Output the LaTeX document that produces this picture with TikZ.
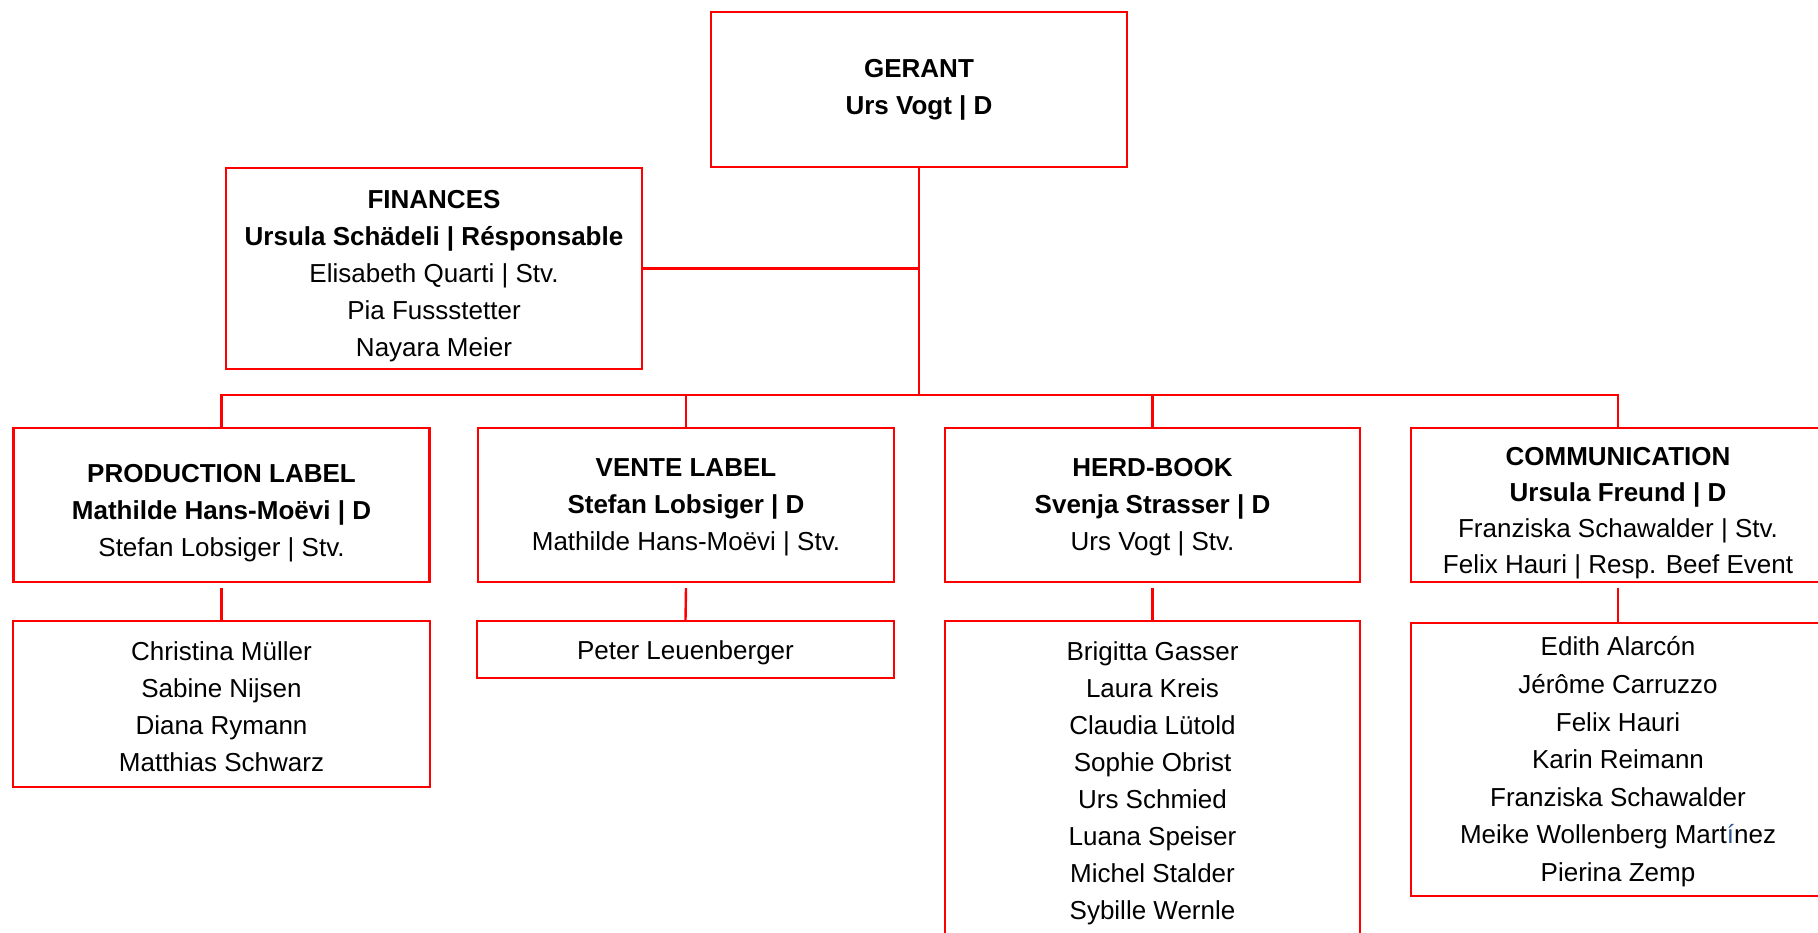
\documentclass[tikz,border=0pt]{standalone}
\usepackage{fontspec}
\setmainfont{Liberation Sans}
\usepackage{xcolor}
\definecolor{ired}{HTML}{FF0000}
\definecolor{iblue}{HTML}{2E5597}
\begin{document}
\begin{tikzpicture}[x=0.5pt,y=-0.5pt,
  orgbox/.style={draw=ired, line width=1.2pt, rectangle, inner sep=0pt},
  boxtext/.style={inner sep=0pt, align=center, font=\fontsize{13}{18.5}\selectfont},
  link/.style={draw=ired, line width=1.2pt}]
\clip (0,0) rectangle (1818,932);
\fill[white] (0,0) rectangle (1818,932);

% boxes
\node[orgbox, minimum width=208pt, minimum height=77.5pt] (ger) at (919,89.5) {};
\node[orgbox, minimum width=208pt, minimum height=100.5pt] (fin) at (434,268.5) {};
\node[orgbox, minimum width=208pt, minimum height=77pt] (prod) at (221.5,505) {};
\node[orgbox, minimum width=208pt, minimum height=77pt] (vente) at (686,505) {};
\node[orgbox, minimum width=207.5pt, minimum height=77pt] (herd) at (1152.5,505) {};
\node[orgbox, minimum width=207pt, minimum height=77pt] (comm) at (1618,505) {};
\node[orgbox, minimum width=208.5pt, minimum height=83pt] (prodl) at (221.5,704) {};
\node[orgbox, minimum width=208.5pt, minimum height=28.5pt] (ventel) at (685.5,649.5) {};
\node[orgbox, minimum width=207.5pt, minimum height=159.5pt] (herdl) at (1152.5,780.5) {};
\node[orgbox, minimum width=207pt, minimum height=136.5pt] (comml) at (1618,759.5) {};

% texts
\node[boxtext] (gert) at (ger.center)
  {\textbf{GERANT}\\\textbf{Urs Vogt | D}};
\node[boxtext, yshift=-4pt] (fint) at (fin.center)
  {\textbf{FINANCES}\\\textbf{Ursula Schädeli | Résponsable}\\Elisabeth Quarti | Stv.\\Pia Fussstetter\\Nayara Meier};
\node[boxtext, yshift=-4pt] (prodt) at (prod.center)
  {\textbf{PRODUCTION LABEL}\\\textbf{Mathilde Hans-Moëvi | D}\\Stefan Lobsiger | Stv.};
\node[boxtext, yshift=-1.2pt] (ventet) at (vente.center)
  {\textbf{VENTE LABEL}\\\textbf{Stefan Lobsiger | D}\\Mathilde Hans-Moëvi | Stv.};
\node[boxtext, yshift=-1.2pt] (herdt) at (herd.center)
  {\textbf{HERD-BOOK}\\\textbf{Svenja Strasser | D}\\Urs Vogt | Stv.};
\node[boxtext, yshift=-4pt, font=\fontsize{13}{18}\selectfont] (commt) at (comm.center)
  {\textbf{COMMUNICATION}\\\textbf{Ursula Freund | D}\\Franziska Schawalder | Stv.\\Felix Hauri | Resp. Beef Event};
\node[boxtext, yshift=-1.2pt] (prodlt) at (prodl.center)
  {Christina Müller\\Sabine Nijsen\\Diana Rymann\\Matthias Schwarz};
\node[boxtext, yshift=-1.7pt] (ventelt) at (ventel.center)
  {Peter Leuenberger};
\node[boxtext, yshift=-1.2pt] (herdlt) at (herdl.center)
  {Brigitta Gasser\\Laura Kreis\\Claudia Lütold\\Sophie Obrist\\Urs Schmied\\Luana Speiser\\Michel Stalder\\Sybille Wernle};
\node[boxtext, yshift=-1.2pt, font=\fontsize{13}{18.8}\selectfont] (commlt) at (comml.center)
  {Edith Alarcón\\Jérôme Carruzzo\\Felix Hauri\\Karin Reimann\\Franziska Schawalder\\Meike Wollenberg Mart{\color{iblue}í}nez\\Pierina Zemp};

% connectors
\coordinate (bus) at (919,395);
\draw[link] (ger.south) -- (bus);
\draw[link] (fin.east) -- (fin.east -| ger.south);
\draw[link] (prod.north) -- (prod.north |- bus) -- (comm.north |- bus) -- (comm.north);
\draw[link] (vente.north) -- (vente.north |- bus);
\draw[link] (herd.north) -- (herd.north |- bus);

\draw[link] ([yshift=-2.5pt]prod.south) -- (prodl.north);
\draw[link] ([yshift=-2.5pt]vente.south) -- (ventel.north);
\draw[link] ([yshift=-2.5pt]herd.south) -- (herdl.north);
\draw[link] ([yshift=-2.5pt]comm.south) -- (comml.north);
\end{tikzpicture}
\end{document}
